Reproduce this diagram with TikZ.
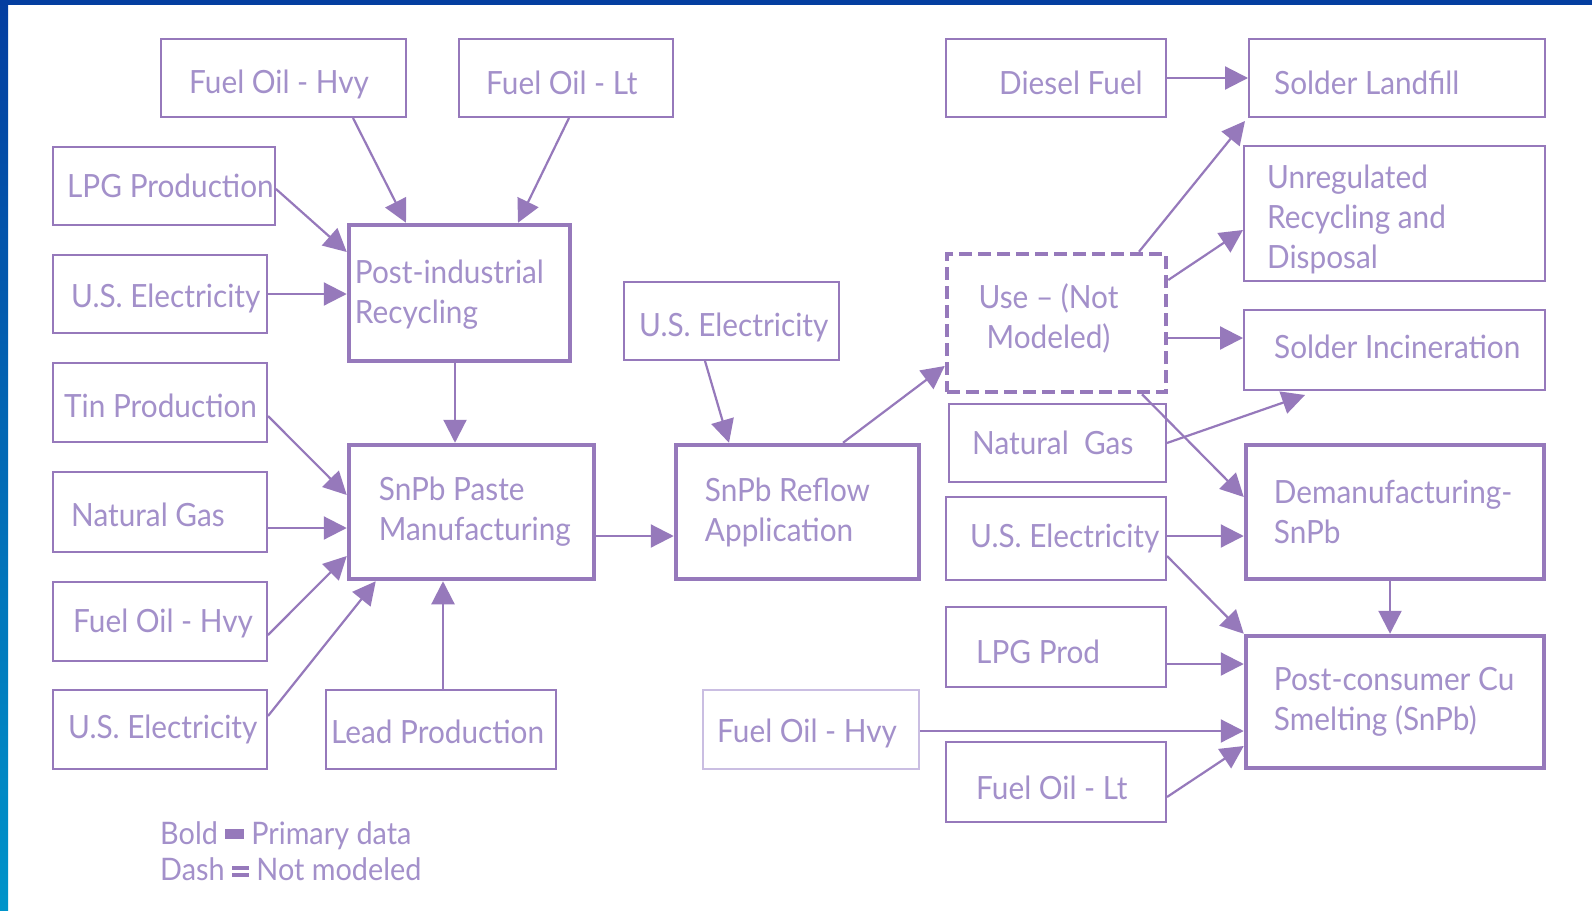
\documentclass[tikz,border=0pt]{standalone}
\usepackage{fontspec}
\setmainfont{Lato}[FakeStretch=0.93]
\usetikzlibrary{arrows.meta}
\definecolor{linec}{RGB}{150,121,187}
\definecolor{textc}{RGB}{163,144,202}
\definecolor{lightc}{RGB}{202,190,226}
\definecolor{bandtop}{RGB}{4,62,160}
\definecolor{bandbot}{RGB}{0,148,202}
\newcommand\bx[9]{%
  \pgfmathsetmacro\bxw{#5-#3}\pgfmathsetmacro\bxh{#6-#4}%
  \pgfmathsetmacro\bxcx{(#3+#5)/2}\pgfmathsetmacro\bxcy{-(#4+#6)/2}%
  \node[#2, minimum width=\bxw pt, minimum height=\bxh pt, inner sep=0pt] (#1) at (\bxcx pt,\bxcy pt) {};
  \node[boxtext, anchor=west] (#1-t) at ([xshift=#7pt, yshift=#8pt]#1.west) {#9};}
\tikzset{
  box/.style={draw=linec, line width=2pt},
  boldbox/.style={box, line width=4.5pt},
  dashbox/.style={box, line width=4.5pt, dash pattern=on 13pt off 6pt},
  lightbox/.style={box, draw=lightc},
  boxtext/.style={text=textc, font=\fontsize{32}{40}\selectfont, inner sep=0pt, align=left},
  flow/.style={draw=linec, line width=2.2pt, -{Triangle[length=23pt,width=23pt]}},
  legend/.style={text=textc, font=\fontsize{31}{36}\selectfont, inner sep=0pt}
}
\begin{document}
\begin{tikzpicture}
\useasboundingbox (0,0) rectangle (1592pt,-910pt);
\fill[white] (0,0) rectangle (1592pt,-910pt);
\fill[bandtop] (0,0) rectangle (1592pt,-5pt);
\shade[top color=bandtop, bottom color=bandbot] (0,0) rectangle (8pt,-910pt);
% boxes
\bx{fohT}{box}{161}{39}{406}{117}{29}{-6}{Fuel Oil - Hvy}
\bx{folT}{box}{459}{39}{673}{117}{28}{-5}{Fuel Oil - Lt}
\bx{lpg}{box}{53}{147}{275}{225}{15}{0}{LPG Production}
\bx{elA}{box}{53}{255}{267}{333}{19}{-4}{U.S. Electricity}
\bx{tin}{box}{53}{363}{267}{442}{12}{-3}{Tin Production}
\bx{ngA}{box}{53}{472}{267}{552}{19}{-3}{Natural Gas}
\bx{fohA}{box}{53}{582}{267}{661}{21}{-2}{Fuel Oil - Hvy}
\bx{elB}{box}{53}{690}{267}{769}{16}{0}{U.S. Electricity}
\bx{pir}{boldbox}{349}{225}{570}{361}{8}{-2}{Post-industrial\\Recycling}
\bx{paste}{boldbox}{349}{445}{594}{579}{32}{0}{SnPb Paste\\Manufacturing}
\bx{lead}{box}{326}{690}{556}{769}{6}{-2}{Lead Production}
\bx{elC}{box}{624}{282}{839}{360}{16}{-6}{U.S. Electricity}
\bx{reflow}{boldbox}{676}{445}{919}{579}{31}{0}{SnPb Reflow\\Application}
\bx{use}{dashbox}{947}{254}{1166}{392}{0}{0}{}
\node[boxtext, align=center] (use-t) at ([xshift=-8pt, yshift=5pt]use.center) {Use -- (Not\\Modeled)};
\bx{diesel}{box}{946}{39}{1166}{117}{54}{-5}{Diesel Fuel}
\bx{ngB}{box}{949}{404}{1166}{482}{24}{0}{Natural\ \ Gas}
\bx{elD}{box}{946}{497}{1166}{580}{25}{0}{U.S. Electricity}
\bx{lpgB}{box}{946}{607}{1166}{687}{31}{-5}{LPG Prod}
\bx{fohB}{lightbox}{703}{690}{919}{769}{15}{-4}{Fuel Oil - Hvy}
\bx{folB}{box}{946}{742}{1166}{822}{31}{-6}{Fuel Oil - Lt}
\bx{landfill}{box}{1249}{39}{1545}{117}{26}{-5}{Solder Landfill}
\bx{unreg}{box}{1244}{146}{1545}{281}{24}{-6}{Unregulated\\Recycling and\\Disposal}
\bx{incin}{box}{1244}{310}{1545}{390}{31}{3}{Solder Incineration}
\bx{deman}{boldbox}{1246}{445}{1544}{579}{30}{0}{Demanufacturing-\\SnPb}
\bx{postc}{boldbox}{1246}{636}{1544}{768}{30}{0}{Post-consumer Cu\\Smelting (SnPb)}
% legend
\node[legend, anchor=west] (lg1) at (160pt,-836pt) {Bold \textcolor{linec}{\rule[0.2em]{0.6em}{0.3em}} Primary data};
\node[legend, anchor=west] (lg2) at (160pt,-869pt) {Dash \textcolor{linec}{\rlap{\rule[0.12em]{0.55em}{0.12em}}\rule[0.34em]{0.55em}{0.12em}} Not modeled};
% connectors
\draw[flow] ([xshift=69.5pt]fohT.south) -- ([xshift=-53.5pt]pir.north);
\draw[flow] ([xshift=3pt]folT.south) -- ([xshift=58.5pt]pir.north);
\draw[flow] ([yshift=-3pt]lpg.east) -- ([yshift=41pt]pir.west);
\draw[flow] (elA.east) -- (elA.east -| pir.west);
\draw[flow] ([xshift=-4.5pt]pir.south) -- ([xshift=-4.5pt]pir.south |- paste.north);
\draw[flow] ([yshift=-13.5pt]tin.east) -- ([yshift=17pt]paste.west);
\draw[flow] ([yshift=-16pt]ngA.east) -- ([yshift=-16pt]ngA.east -| paste.west);
\draw[flow] ([yshift=-13.5pt]fohA.east) -- ([yshift=-44pt]paste.west);
\draw[flow] ([yshift=13.5pt]elB.east) -- ([xshift=29pt]paste.south west);
\draw[flow] ([xshift=2pt]lead.north) -- ([xshift=2pt]lead.north |- paste.south);
\draw[flow] ([yshift=-24pt]paste.east) -- ([yshift=-24pt]paste.east -| reflow.west);
\draw[flow] ([xshift=-26.5pt]elC.south) -- ([xshift=-68.5pt]reflow.north);
\draw[flow] ([xshift=45.5pt]reflow.north) -- ([yshift=-43pt]use.west);
\draw[flow] ([xshift=82.5pt]use.north) -- ([xshift=-3pt,yshift=-3pt]landfill.south west);
\draw[flow] ([yshift=43pt]use.east) -- ([yshift=-16.5pt]unreg.west);
\draw[flow] ([yshift=-15pt]use.east) -- ([yshift=-15pt]use.east -| incin.west);
\draw[flow] (diesel.east) -- (landfill.west);
\draw[flow] (ngB.east) -- ([xshift=-89.5pt,yshift=-4pt]incin.south);
\draw[flow] ([xshift=85.5pt]use.south) -- ([yshift=15pt]deman.west);
\draw[flow] ([yshift=2.5pt]elD.east) -- ([yshift=2.5pt]elD.east -| deman.west);
\draw[flow] ([yshift=-17.5pt]elD.east) -- (postc.north west);
\draw[flow] ([xshift=-5pt]deman.south) -- ([xshift=-5pt]deman.south |- postc.north);
\draw[flow] ([yshift=-17pt]lpgB.east) -- ([yshift=-17pt]lpgB.east -| postc.west);
\draw[flow] ([yshift=-1.5pt]fohB.east) -- ([yshift=-1.5pt]fohB.east -| postc.west);
\draw[flow] ([yshift=-15pt]folB.east) -- ([yshift=-44pt]postc.west);
\end{tikzpicture}
\end{document}
